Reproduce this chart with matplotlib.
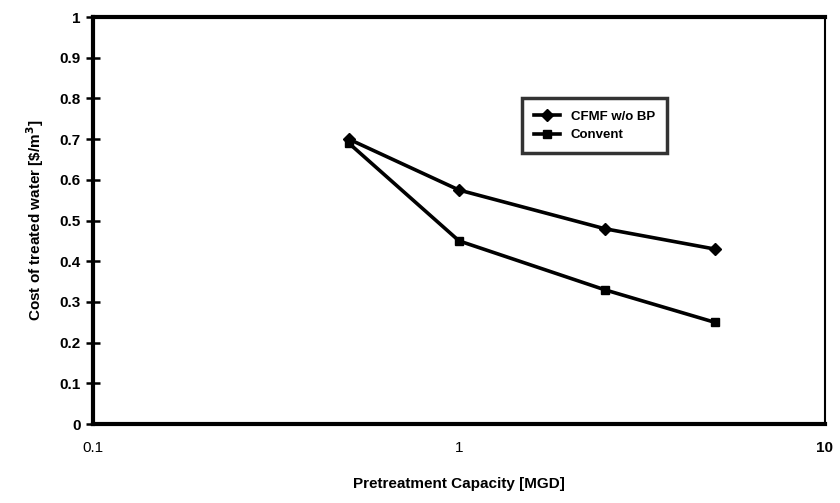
import matplotlib
matplotlib.use("Agg")
import matplotlib.pyplot as plt
from matplotlib.ticker import FixedLocator, NullLocator

plt.rcParams["font.family"] = ["Liberation Sans", "DejaVu Sans"]

# Pretreatment capacity (MGD) and cost of treated water ($/m3)
capacity = [0.5, 1, 2.5, 5]
cfmf_cost = [0.70, 0.575, 0.48, 0.43]
convent_cost = [0.69, 0.45, 0.33, 0.25]
y_ticks = [0, 0.1, 0.2, 0.3, 0.4, 0.5, 0.6, 0.7, 0.8, 0.9, 1]

fig = plt.figure(figsize=(8.4, 5.03), dpi=100)
ax = fig.add_axes([0.111, 0.157, 0.871, 0.809])

ax.plot(capacity, cfmf_cost, color="black", lw=2.6, marker="D", ms=6, label="CFMF w/o BP")
ax.plot(capacity, convent_cost, color="black", lw=2.6, marker="s", ms=6, label="Convent")

ax.set_xscale("log")
ax.set_xlim(0.1, 10)
ax.set_ylim(0, 1)
ax.xaxis.set_major_locator(FixedLocator([0.1, 1, 10]))
ax.xaxis.set_minor_locator(NullLocator())
ax.set_xticks([0.1, 1, 10])
ax.set_xticklabels(["0.1", "1", "10"], fontsize=11)
ax.get_xticklabels()[2].set_fontweight("bold")
ax.tick_params(axis="x", length=0, pad=12)

ax.set_yticks(y_ticks)
ax.set_yticklabels([f"{v:g}" for v in y_ticks], fontsize=11, fontweight="bold")
ax.tick_params(axis="y", direction="inout", length=10, width=1.8, pad=4)

for side in ["left", "bottom", "top"]:
    ax.spines[side].set_linewidth(3)
ax.spines["right"].set_linewidth(1.5)

ax.set_xlabel("Pretreatment Capacity [MGD]", fontsize=11, fontweight="bold", labelpad=16)
ax.set_ylabel("Cost of treated water [\\$/m$^\\mathbf{3}$]", fontsize=11, fontweight="bold", labelpad=10)

leg = ax.legend(loc="upper left", bbox_to_anchor=(0.586, 0.80), borderaxespad=0,
                frameon=True, fancybox=False, edgecolor="black", handlelength=2.0,
                borderpad=0.9, prop={"weight": "bold", "size": 9.5})
leg.get_frame().set_linewidth(2.5)

fig.savefig("out.png", dpi=100)
